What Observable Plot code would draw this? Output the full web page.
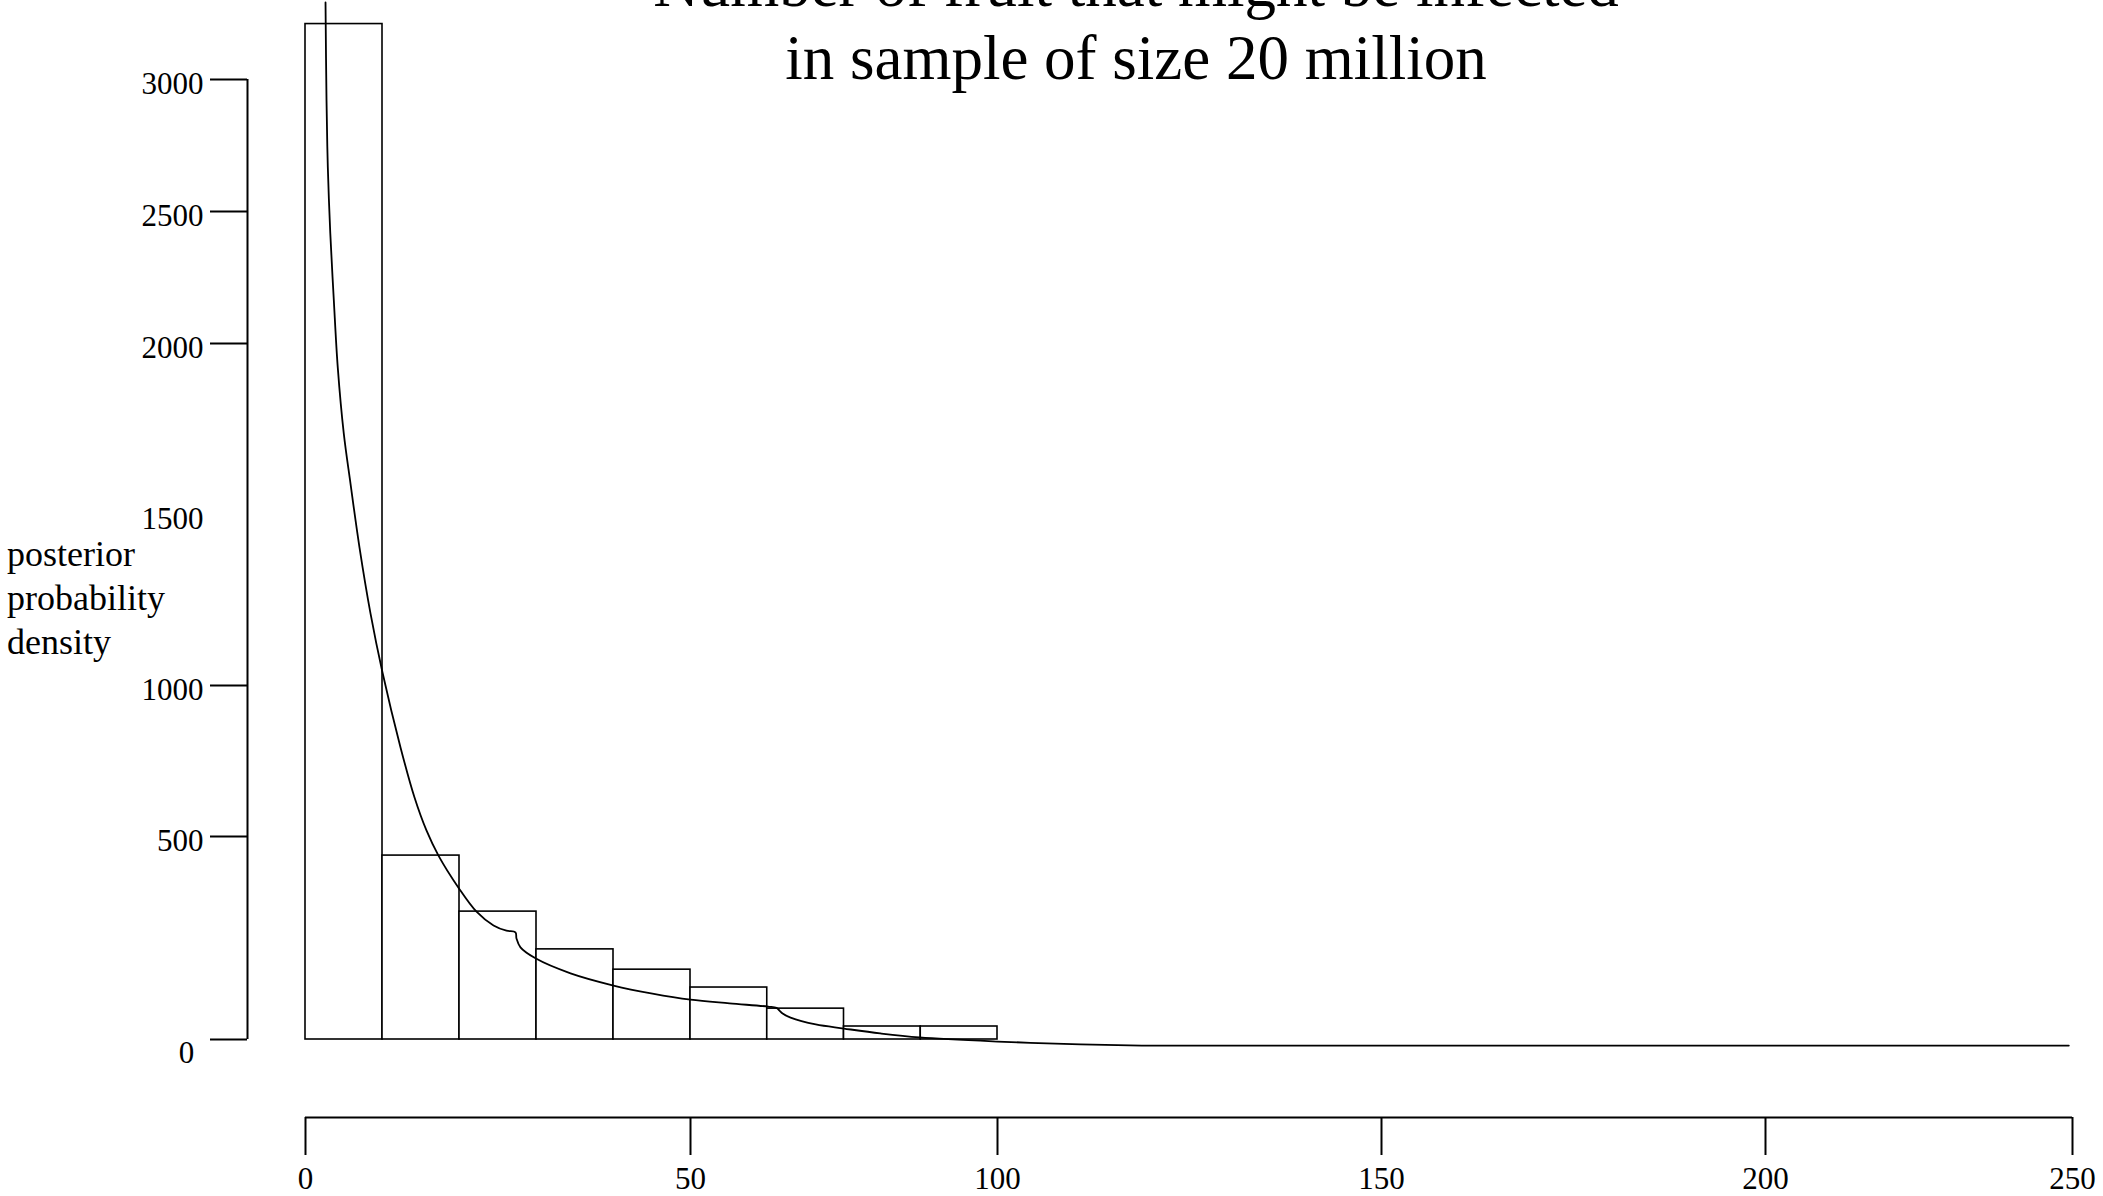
<!DOCTYPE html>
<html><head><meta charset="utf-8">
<script src="https://cdn.jsdelivr.net/npm/d3@7"></script>
<script src="https://cdn.jsdelivr.net/npm/@observablehq/plot@0.6"></script>
<style>
html,body{margin:0;padding:0;background:#fff;overflow:hidden;}
#wrap{position:relative;width:2103px;height:1196px;overflow:hidden;}
#chart{position:absolute;left:0;top:0;}
.title{position:absolute;left:536px;top:-51px;width:1200px;text-align:center;font-family:"Liberation Serif","Times New Roman",serif;font-size:63px;line-height:73px;color:#000;white-space:nowrap;}
.ylab{position:absolute;left:7px;top:532px;font-family:"Liberation Serif","Times New Roman",serif;font-size:36px;line-height:44px;color:#000;}
</style></head><body>
<div id="wrap"><div id="chart"></div>
<div class="title">Number of fruit that might be infected<br>in sample of size 20 million</div>
<div class="ylab">posterior<br>probability<br>density</div></div>
<script>
// Histogram bins (number of fruit) and posterior density heights
const binStart   = [0, 10, 20, 30, 40, 50, 62.5, 75, 87.5];
const binEnd     = [10, 20, 30, 40, 50, 62.5, 75, 87.5, 100];
const binDensity = [3210, 453, 315, 222, 172, 128, 76, 32, 32];

// Fitted density curve
const curveX = [2.60, 2.73, 2.90, 3.22, 3.68, 4.19, 4.97, 5.84, 7.01, 8.44, 10.0, 12.34, 14.16, 15.71, 17.27, 19.87, 22.21, 24.42, 26.10, 27.27, 27.40, 27.92, 29.87, 34.42, 40.0, 45.06, 50.0, 56.35, 62.64, 64.0, 64.5, 65.0, 66.3, 70.4, 75.0, 80.9, 87.3, 100, 110.8, 118.8, 125, 249.4];
const curveY = [3292, 2920, 2667, 2417, 2163, 1930, 1737, 1591, 1404, 1211, 1038, 795, 629, 520, 453, 374, 315, 281, 268, 264, 249, 227, 200, 163, 133, 113, 98, 89, 81, 78, 71, 64, 54, 37, 27, 15, 5, -5, -12, -15, -15, -15];

// Axis ticks (the axes of the original are unevenly spaced)
const xTicks = [0, 50, 100, 150, 200, 250];
const xTickPx = [305, 690, 997, 1381, 1765, 2072];
const yTicks = [0, 500, 1000, 2000, 2500, 3000];
const yTickPx = [1039, 836, 685, 343, 211, 79];
const yLabelTicks = [500, 1000, 1500, 2000, 2500, 3000];

const bins = binStart.map((s, i) => ({x1: s, x2: binEnd[i], y1: 0, y2: binDensity[i]}));
const curve = curveX.map((x, i) => ({x, y: curveY[i]}));
const fmt = d => String(d);
const font = "Liberation Serif, Times New Roman, serif";

const chart = Plot.plot({
  width: 2103,
  height: 1196,
  marginLeft: 247,
  marginRight: 31,
  marginTop: 79,
  marginBottom: 79,
  style: {fontFamily: font, fontSize: "31px", color: "black", background: "white", overflow: "visible"},
  x: {type: "linear", domain: xTicks, range: xTickPx, label: null},
  y: {type: "linear", domain: yTicks, range: yTickPx, label: null},
  marks: [
    Plot.rect(bins, {x1: "x1", x2: "x2", y1: "y1", y2: "y2", fill: "white", stroke: "black", strokeWidth: 1.6}),
    Plot.line(curve, {x: "x", y: "y", curve: "catmull-rom", stroke: "black", strokeWidth: 1.8}),
    // y axis line and ticks
    Plot.ruleX([0], {y1: 0, y2: 3000, dx: -58, stroke: "black", strokeWidth: 2}),
    Plot.axisY({ticks: yTicks, tickSize: 37, tickFormat: () => "", strokeWidth: 2, label: null}),
    Plot.axisY({ticks: yLabelTicks, tickSize: 0, tickPadding: 44, dy: 5, tickFormat: fmt, fontSize: 31, label: null}),
    Plot.axisY({ticks: [0], tickSize: 0, tickPadding: 61, dy: 13.5, textAnchor: "middle", tickFormat: fmt, fontSize: 31, label: null}),
    // x axis line, ticks and labels
    Plot.ruleY([0], {x1: 0, x2: 250, dy: 78, stroke: "black", strokeWidth: 2}),
    Plot.axisX({ticks: xTicks, tickSize: 38, tickPadding: 11, tickFormat: fmt, fontSize: 31, strokeWidth: 2, label: null})
  ]
});
document.getElementById("chart").appendChild(chart);
</script>
</body></html>
